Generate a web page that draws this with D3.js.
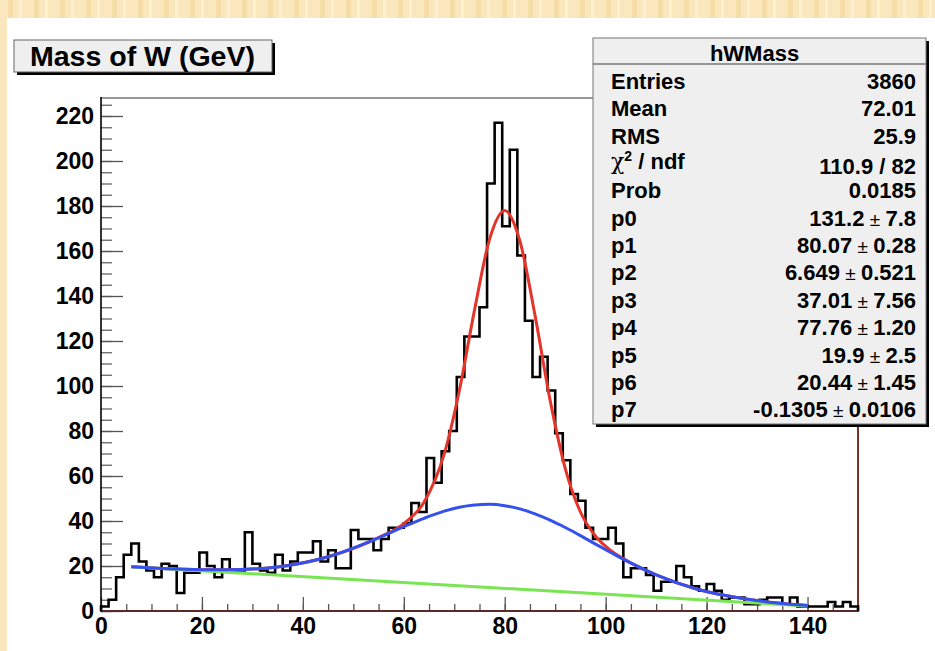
<!DOCTYPE html>
<html>
<head>
<meta charset="utf-8">
<script src="https://cdn.jsdelivr.net/npm/d3@7"></script>
<style>
  body { margin: 0; background: #fbe8c0; }
  svg { display: block; font-family: "Liberation Sans", Arial, sans-serif; font-weight: bold; }
</style>
</head>
<body>
<svg id="chart" width="935" height="651"></svg>
<script>
// histogram hWMass: 100 bins from 0 to 150 GeV (counts)
const binCounts = [
  2, 5, 15, 25, 30, 22, 18, 15, 21, 20,
  8, 17, 17, 26, 20, 15, 23, 18, 18, 35,
  21, 18, 17, 25, 18, 22, 26, 26, 31, 22,
  27, 19, 19, 36, 32, 32, 27, 32, 37, 37,
  39, 48, 44, 68, 57, 71, 80, 104, 122, 122,
  135, 190, 217, 171, 205, 158, 129, 104, 113, 98,
  79, 67, 52, 49, 37, 32, 32, 37, 30, 15,
  19, 19, 16, 9, 13, 13, 20, 15, 11, 9,
  12, 9, 5, 6, 6, 3, 3, 5, 6, 6,
  3, 6, 2, 2, 2, 2, 4, 2, 4, 2
];
const binLow = 0, binHigh = 150;

// fit curves
const fitX     = [6, 15, 25, 35, 45, 55, 60, 64, 68, 71, 74, 77, 80, 83, 86, 89, 92, 95, 98, 101, 104, 110, 118, 126, 134, 140];
const totalFit = [19.7, 18.7, 18.3, 19.6, 24.1, 32.6, 38.8, 48.3, 69.7, 97.9, 133.6, 165.3, 178.0, 164.5, 131.4, 93.6, 63.3, 44.0, 33.2, 26.9, 22.6, 16.1, 9.8, 6.0, 3.6, 2.45];
const bkgFit   = [19.7, 18.7, 18.3, 19.6, 24.1, 32.5, 37.5, 41.2, 44.4, 46.1, 47.1, 47.4, 46.8, 45.4, 43.2, 40.4, 37.1, 33.5, 29.7, 26.0, 22.4, 16.1, 9.8, 6.0, 3.6, 2.45];
const lineX    = [6, 140];
const lineFit  = [19.7, 2.2];

const xTickValues = [0, 20, 40, 60, 80, 100, 120, 140];
const yTickValues = [0, 20, 40, 60, 80, 100, 120, 140, 160, 180, 200, 220];

const titleText = "Mass of W (GeV)";
const statsTitle = "hWMass";
const statLabels = ["Entries", "Mean", "RMS", "chi2", "Prob", "p0", "p1", "p2", "p3", "p4", "p5", "p6", "p7"];
const statValues = ["3860", "72.01", "25.9", "110.9 / 82", "0.0185",
  ["131.2", "7.8"], ["80.07", "0.28"], ["6.649", "0.521"], ["37.01", "7.56"],
  ["77.76", "1.20"], ["19.9", "2.5"], ["20.44", "1.45"], ["-0.1305", "0.0106"]];

const W = 935, H = 651;
const frame = { left: 101, right: 858, top: 98, bottom: 611 };

const svg = d3.select("#chart");

// yellow striped backdrop behind the canvas
const defs = svg.append("defs");
const pat = defs.append("pattern")
  .attr("id", "stripes")
  .attr("patternUnits", "userSpaceOnUse")
  .attr("width", 26).attr("height", 10);
pat.append("rect").attr("width", 26).attr("height", 10).attr("fill", "#fbe7bd");
pat.append("rect").attr("x", 8).attr("width", 5).attr("height", 10).attr("fill", "#f6dca6");
pat.append("rect").attr("x", 19).attr("width", 3).attr("height", 10).attr("fill", "#fdf0d2");

svg.append("rect").attr("width", W).attr("height", H).attr("fill", "url(#stripes)");
svg.append("rect").attr("x", 7).attr("y", 18).attr("width", W - 7).attr("height", H - 18).attr("fill", "#fff");

const x = d3.scaleLinear().domain([binLow, binHigh]).range([frame.left, frame.right]);
const y = d3.scaleLinear().domain([0, 228]).range([frame.bottom, frame.top]);

// minor ticks
svg.append("g")
  .attr("transform", `translate(${frame.left},0)`)
  .call(d3.axisLeft(y).tickValues(d3.range(0, 226, 5)).tickSize(-11).tickFormat(""))
  .call(g => g.select(".domain").remove())
  .call(g => g.selectAll("line").attr("stroke", "#666").attr("stroke-width", 1.3));
svg.append("g")
  .attr("transform", `translate(0,${frame.bottom})`)
  .call(d3.axisBottom(x).tickValues(d3.range(0, 151, 5)).tickSize(-7).tickFormat(""))
  .call(g => g.select(".domain").remove())
  .call(g => g.selectAll("line").attr("stroke", "#555").attr("stroke-width", 1.3));

// major ticks + labels
svg.append("g")
  .attr("transform", `translate(${frame.left},0)`)
  .call(d3.axisLeft(y).tickValues(yTickValues).tickSize(-22).tickPadding(7))
  .call(g => g.select(".domain").remove())
  .call(g => g.selectAll("line").attr("stroke", "#555").attr("stroke-width", 1.3))
  .call(g => g.selectAll("text").attr("font-size", 23).attr("font-family", "Liberation Sans, Arial")
    .attr("font-weight", "bold").attr("fill", "#000"));
svg.append("g")
  .attr("transform", `translate(0,${frame.bottom})`)
  .call(d3.axisBottom(x).tickValues(xTickValues).tickSize(-14).tickPadding(7))
  .call(g => g.select(".domain").remove())
  .call(g => g.selectAll("line").attr("stroke", "#555").attr("stroke-width", 1.3))
  .call(g => g.selectAll("text").attr("font-size", 23).attr("font-family", "Liberation Sans, Arial")
    .attr("font-weight", "bold").attr("fill", "#000"));

// frame
svg.append("line").attr("x1", frame.left).attr("x2", frame.right).attr("y1", frame.top).attr("y2", frame.top)
  .attr("stroke", "#999").attr("stroke-width", 2);
svg.append("line").attr("x1", frame.right).attr("x2", frame.right).attr("y1", frame.top).attr("y2", frame.bottom)
  .attr("stroke", "#7b2e2a").attr("stroke-width", 2);
svg.append("line").attr("x1", frame.left).attr("x2", frame.right + 1).attr("y1", frame.bottom).attr("y2", frame.bottom)
  .attr("stroke", "#5a2a26").attr("stroke-width", 2);
svg.append("line").attr("x1", frame.left).attr("x2", frame.left).attr("y1", frame.top - 1).attr("y2", frame.bottom + 1)
  .attr("stroke", "#000").attr("stroke-width", 1.6);

// histogram outline
const binWidth = (binHigh - binLow) / binCounts.length;
const steps = [[binLow, 0]].concat(binCounts.map((c, i) => [binLow + i * binWidth, c]));
steps.push([binHigh, binCounts[binCounts.length - 1]]);
steps.push([binHigh, 0]);
svg.append("path")
  .attr("d", d3.line().x(d => x(d[0])).y(d => y(d[1])).curve(d3.curveStepAfter)(steps))
  .attr("fill", "none").attr("stroke", "#000").attr("stroke-width", 2.6);

// fit curves
const curve = d3.line().x(d => x(d[0])).y(d => y(d[1])).curve(d3.curveMonotoneX);
svg.append("path")
  .attr("d", curve(fitX.map((v, i) => [v, totalFit[i]])))
  .attr("fill", "none").attr("stroke", "#e5342a").attr("stroke-width", 3);
svg.append("path")
  .attr("d", curve(lineX.map((v, i) => [v, lineFit[i]])))
  .attr("fill", "none").attr("stroke", "#79e552").attr("stroke-width", 3);
svg.append("path")
  .attr("d", curve(fitX.map((v, i) => [v, bkgFit[i]])))
  .attr("fill", "none").attr("stroke", "#3450ee").attr("stroke-width", 3);

// title box
const tb = { x: 14, y: 40, w: 258, h: 32 };
svg.append("rect").attr("x", tb.x + 3).attr("y", tb.y + 3).attr("width", tb.w).attr("height", tb.h).attr("fill", "#000");
svg.append("rect").attr("x", tb.x).attr("y", tb.y).attr("width", tb.w).attr("height", tb.h)
  .attr("fill", "#efefef").attr("stroke", "#666").attr("stroke-width", 1);
svg.append("text").attr("x", 30).attr("y", tb.y + 26)
  .attr("font-size", 27).attr("textLength", 225).attr("lengthAdjust", "spacingAndGlyphs")
  .text(titleText);

// stats box
const sb = { x: 593, y: 38, w: 333, h: 386 };
svg.append("rect").attr("x", sb.x + 3).attr("y", sb.y + 3).attr("width", sb.w).attr("height", sb.h).attr("fill", "#000");
svg.append("rect").attr("x", sb.x).attr("y", sb.y).attr("width", sb.w).attr("height", sb.h)
  .attr("fill", "#efefef").attr("stroke", "#777").attr("stroke-width", 1);
svg.append("line").attr("x1", sb.x).attr("x2", sb.x + sb.w).attr("y1", 64).attr("y2", 64)
  .attr("stroke", "#777").attr("stroke-width", 1.5);
svg.append("text").attr("x", sb.x + sb.w / 2 - 5).attr("y", 61).attr("text-anchor", "middle")
  .attr("font-size", 22).text(statsTitle);

const rowY = i => 89 + i * 27.35;
statLabels.forEach((lab, i) => {
  const t = svg.append("text").attr("x", 611).attr("y", rowY(i) - (lab === "chi2" ? 2 : 0)).attr("font-size", 22);
  if (lab === "chi2") {
    t.append("tspan").attr("font-weight", "normal").attr("font-family", "DejaVu Serif, serif").text("\u03c7");
    t.append("tspan").attr("dy", -8).attr("font-size", 14).text("2");
    t.append("tspan").attr("dy", 8).text(" / ndf");
  } else {
    t.text(lab);
  }
  const v = statValues[i];
  const vt = svg.append("text").attr("x", 916).attr("y", rowY(i) + (lab === "chi2" ? 3 : 0))
    .attr("text-anchor", "end").attr("font-size", 22);
  if (Array.isArray(v)) {
    vt.append("tspan").text(v[0]);
    vt.append("tspan").attr("font-weight", "normal").attr("font-size", 19).text(" \u00b1 ");
    vt.append("tspan").text(v[1]);
  } else {
    vt.text(v);
  }
});
</script>
</body>
</html>
